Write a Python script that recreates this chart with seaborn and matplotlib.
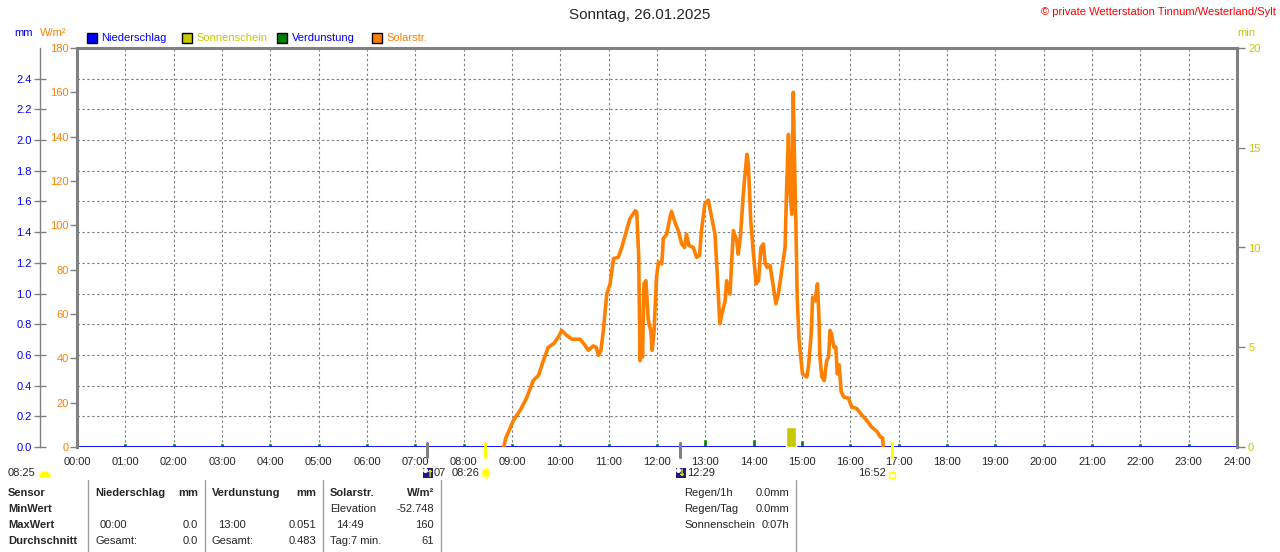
import numpy as np
import matplotlib
matplotlib.use("Agg")
import matplotlib.pyplot as plt
import matplotlib.transforms as mtrans
from matplotlib.patches import Rectangle, Wedge, Circle
import seaborn as sns

# --- data ---
# solar radiation (W/m²) against decimal hour
solar_h = [8.83, 8.87, 9.03, 9.17, 9.30, 9.44, 9.55, 9.65, 9.75, 9.86, 9.96, 10.03,
           10.13, 10.24, 10.41, 10.51, 10.58, 10.68, 10.74, 10.79, 10.84, 10.89, 10.96,
           11.03, 11.10, 11.20, 11.27, 11.37, 11.44, 11.55, 11.58, 11.62, 11.65, 11.68,
           11.70, 11.73, 11.77, 11.82, 11.87, 11.90, 11.94, 11.99, 12.03, 12.10, 12.13,
           12.20, 12.27, 12.30, 12.37, 12.44, 12.51, 12.57, 12.61, 12.66, 12.75, 12.82,
           12.88, 12.92, 12.99, 13.06, 13.13, 13.20, 13.25, 13.30, 13.34, 13.41, 13.44,
           13.51, 13.58, 13.65, 13.68, 13.73, 13.79, 13.86, 13.89, 13.94, 13.99, 14.05,
           14.10, 14.15, 14.20, 14.24, 14.28, 14.34, 14.41, 14.46, 14.51, 14.58, 14.65,
           14.68, 14.72, 14.75, 14.79, 14.82, 14.84, 14.88, 14.90, 14.94, 15.01, 15.10,
           15.14, 15.19, 15.22, 15.27, 15.32, 15.35, 15.37, 15.41, 15.46, 15.51, 15.55,
           15.58, 15.61, 15.66, 15.70, 15.73, 15.77, 15.81, 15.86, 15.96, 16.03, 16.13,
           16.24, 16.34, 16.44, 16.55, 16.62, 16.67, 16.68]
solar_w = [0, 4, 12, 16.6, 22, 30, 32.4, 39, 45, 46.6, 49.6, 52.6,
           50.4, 48.6, 48.6, 45.9, 43.6, 45.6, 45, 41.4, 43.6, 52.6, 69,
           73.6, 85, 85.6, 90, 97.6, 103, 106.6, 106, 87, 39, 56,
           40.6, 73.6, 75, 57, 52.6, 43.6, 52.6, 76.6, 83.4, 82.6, 94,
           96, 103.6, 106.3, 101.4, 97.6, 91.6, 90, 96, 90.9, 90, 85.6,
           86.4, 97.6, 109.6, 111.4, 103.6, 96, 76.6, 55.6, 60, 66, 75,
           69, 97.6, 93, 87, 96, 115.6, 132, 127.6, 102, 88.6, 73.6,
           75, 90, 91.6, 82.6, 81, 81.9, 72, 64.6, 69, 79.6, 90,
           115.6, 141, 115.6, 105, 160, 135, 93, 67.6, 48, 33, 31.6,
           37.6, 51, 67.6, 66, 73.6, 58.6, 40.6, 31.6, 30, 39, 40.6,
           52.6, 51, 45, 45, 33, 37, 25, 22.6, 22, 18, 17.4,
           14.4, 12, 9, 7, 4.6, 4, 0]

# evaporation (mm) per hour
evap_h = list(range(1, 24))
evap_mm = [0.024] * 12 + [0.051, 0.050, 0.046] + [0.024] * 8

# sunshine (min)
sun_start = [14.67]
sun_end = [14.88]
sun_min = [1.02]

# sun / moon marks under the time axis
moon_marks = [7.25, 12.48]
sun_marks = [8.433, 16.867]

hour_labels = ["%02d:00" % h for h in range(25)]
w_ticks = list(range(0, 181, 20))
mm_ticks = [round(0.2 * i, 1) for i in range(13)]
min_ticks = [0, 5, 10, 15, 20]

ORANGE = "#ff8000"
BLUE = "#0000ff"
YELLOW = "#c8c800"
GREEN = "#008000"
GRAY = "#808080"
NAVY = "#1c1c7c"

sns.set_style("white")
plt.rcParams["font.family"] = ["Liberation Sans", "DejaVu Sans"]
plt.rcParams["font.size"] = 8

W, H = 1280, 552
fig = plt.figure(figsize=(12.8, 5.52), dpi=100)


def fx(x):
    return x / W


def fy(y):
    return 1 - y / H


def inch(x, y):
    # top-left pixel -> inches from bottom-left (for round icons)
    return x / 100, (H - y) / 100


ax = fig.add_axes([fx(77), fy(447), fx(1237) - fx(77), fy(48) - fy(447)])
ax_mm = ax.twinx()
ax_min = ax.twinx()
ax.set_zorder(3)
ax.patch.set_visible(False)
ax_min.set_zorder(2)
ax_mm.set_zorder(1)

# --- mm axis (grid + evaporation) ---
ax_mm.set_ylim(0, 2.6)
ax_mm.yaxis.set_ticks_position("left")
ax_mm.yaxis.set_label_position("left")
ax_mm.spines["left"].set_position(("axes", (40 - 77) / 1160))
ax_mm.spines["left"].set_visible(True)
ax_mm.spines["left"].set_color(GRAY)
ax_mm.spines["left"].set_linewidth(1)
for s in ["right", "top", "bottom"]:
    ax_mm.spines[s].set_visible(False)
ax_mm.set_yticks(mm_ticks)
ax_mm.set_yticklabels(["%.1f" % v for v in mm_ticks], color=BLUE)
ax_mm.tick_params(axis="y", direction="inout", length=8, width=1, color=GRAY, pad=2, labelsize=8)
ax_mm.set_xlim(0, 24)
ax_mm.grid(False)
for v in mm_ticks[1:]:
    ax_mm.axhline(v, color=GRAY, lw=0.8, ls=(0, (2.2, 2.2)), zorder=0)
for h in range(1, 24):
    ax_mm.axvline(h, color=GRAY, lw=0.8, ls=(0, (2.2, 2.2)), zorder=0)
ax_mm.bar(evap_h, evap_mm, width=0.08, color=GREEN, zorder=2)
ax_mm.axhline(0, color=BLUE, lw=1.3, zorder=3)

# --- min axis (sunshine) ---
ax_min.set_ylim(0, 20)
ax_min.set_xlim(0, 24)
ax_min.set_yticks(min_ticks)
ax_min.set_yticklabels([str(v) for v in min_ticks], color=YELLOW)
ax_min.tick_params(axis="y", direction="out", length=6, width=1, color=GRAY, pad=2, labelsize=8)
for s in ax_min.spines.values():
    s.set_visible(False)
ax_min.bar(sun_start, sun_min, width=np.subtract(sun_end, sun_start), align="edge",
           color=YELLOW, zorder=2)

# --- W/m² axis (solar radiation) ---
sns.lineplot(x=solar_h, y=solar_w, ax=ax, color=ORANGE, lw=2.6, estimator=None, sort=False)
ax.set_xlim(0, 24)
ax.set_ylim(0, 180)
ax.set_yticks(w_ticks)
ax.set_yticklabels([str(v) for v in w_ticks], color=ORANGE)
ax.set_xticks(range(25))
ax.set_xticklabels(hour_labels)
ax.tick_params(axis="y", direction="out", length=5, width=1, color=GRAY, pad=1, labelsize=8)
ax.tick_params(axis="x", direction="out", length=0, pad=7, labelsize=8)
ax.set_xlabel("")
ax.set_ylabel("")
for s in ax.spines.values():
    s.set_color(GRAY)
    s.set_linewidth(2.2)
ax.spines["bottom"].set_visible(False)

# marks for moon / sun rise and set below the axis
trans = mtrans.blended_transform_factory(ax.transData, ax.transAxes)
for m in moon_marks:
    ax.plot([m, m], [0.01, -0.025], color=GRAY, lw=2.2, transform=trans, clip_on=False)
for m in sun_marks:
    ax.plot([m, m], [0.01, -0.025], color="#ffff00", lw=2.2, transform=trans, clip_on=False)

# --- header texts ---
fig.text(0.5, fy(15), "Sonntag, 26.01.2025", ha="center", va="center", fontsize=11)
fig.text(fx(1276), fy(12), "© private Wetterstation Tinnum/Westerland/Sylt", ha="right",
         va="center", color="#ff0000", fontsize=8)
fig.text(fx(14), fy(33), "mm", color=BLUE, va="center", fontsize=8)
fig.text(fx(40), fy(33), "W/m²", color=ORANGE, va="center", fontsize=8)
fig.text(fx(1237), fy(33), "min", color=YELLOW, va="center", fontsize=8)

legend_items = [(87, "Niederschlag", BLUE, BLUE), (182, "Sonnenschein", YELLOW, YELLOW),
                (277, "Verdunstung", GREEN, BLUE), (372, "Solarstr.", ORANGE, ORANGE)]
for x0, label, fc, tc in legend_items:
    fig.add_artist(Rectangle((fx(x0), fy(43)), 9.5 / W, 10 / H, transform=fig.transFigure,
                             facecolor=fc, edgecolor="black", lw=1))
    fig.text(fx(x0 + 14.5), fy(38), label, color=tc, va="center", fontsize=8)

# --- second time row ---
fig.text(fx(8), fy(473), "08:25", va="center", fontsize=8)
fig.add_artist(Wedge(inch(45, 477), 0.05, 0, 180, transform=fig.dpi_scale_trans,
                     color="#ffff00"))
for x0 in (423, 676):
    fig.add_artist(Rectangle((fx(x0), fy(478)), 10 / W, 10 / H, transform=fig.transFigure,
                             facecolor=NAVY, edgecolor="none"))
    fig.add_artist(Circle(inch(x0 + 2.5, 470.5), 0.018, transform=fig.dpi_scale_trans,
                          color="white"))
fig.text(fx(429), fy(474), "↑", color="#ffff00", ha="center", va="center", fontsize=7,
         fontweight="bold", family="DejaVu Sans")
fig.text(fx(681), fy(473), "↓", color="#ffff00", ha="center", va="center", fontsize=7,
         fontweight="bold", family="DejaVu Sans")
fig.text(fx(434), fy(473), "07", va="center", fontsize=8)
fig.text(fx(452), fy(473), "08:26", va="center", fontsize=8)
fig.add_artist(Circle(inch(486, 473), 0.03, transform=fig.dpi_scale_trans, color="#ffff00"))
for a in np.arange(0, 360, 45):
    r = np.deg2rad(a)
    cx, cy = inch(486, 473)
    fig.add_artist(plt.Line2D([cx + 0.038 * np.cos(r), cx + 0.052 * np.cos(r)],
                              [cy + 0.038 * np.sin(r), cy + 0.052 * np.sin(r)],
                              transform=fig.dpi_scale_trans, color="#ffff00", lw=0.8))
fig.text(fx(687), fy(473), "12:29", va="center", fontsize=8)
fig.text(fx(858), fy(473), "16:52", va="center", fontsize=8)
fig.add_artist(Rectangle((fx(889), fy(478)), 6 / W, 6 / H, transform=fig.transFigure,
                         facecolor="none", edgecolor="#ffff00", lw=1))

# --- statistics table ---
rows_y = [493, 509, 525, 541]
for y, t in zip(rows_y, ["Sensor", "MinWert", "MaxWert", "Durchschnitt"]):
    fig.text(fx(8), fy(y), t, va="center", fontsize=8, fontweight="bold")
fig.text(fx(95), fy(493), "Niederschlag", va="center", fontsize=8, fontweight="bold")
fig.text(fx(198), fy(493), "mm", va="center", ha="right", fontsize=8, fontweight="bold")
fig.text(fx(212), fy(493), "Verdunstung", va="center", fontsize=8, fontweight="bold")
fig.text(fx(316), fy(493), "mm", va="center", ha="right", fontsize=8, fontweight="bold")
fig.text(fx(330), fy(493), "Solarstr.", va="center", fontsize=8, fontweight="bold")
fig.text(fx(434), fy(493), "W/m²", va="center", ha="right", fontsize=8, fontweight="bold")

cells_left = [(330, 509, "Elevation"), (100, 525, "00:00"), (218, 525, "13:00"),
              (336, 525, "14:49"), (95, 541, "Gesamt:"), (212, 541, "Gesamt:"),
              (330, 541, "Tag:7 min."), (684, 493, "Regen/1h"), (684, 509, "Regen/Tag"),
              (684, 525, "Sonnenschein")]
cells_right = [(434, 509, "-52.748"), (198, 525, "0.0"), (316, 525, "0.051"),
               (434, 525, "160"), (198, 541, "0.0"), (316, 541, "0.483"), (434, 541, "61"),
               (789, 493, "0.0mm"), (789, 509, "0.0mm"), (789, 525, "0:07h")]
for x0, y0, t in cells_left:
    fig.text(fx(x0), fy(y0), t, va="center", fontsize=8)
for x0, y0, t in cells_right:
    fig.text(fx(x0), fy(y0), t, va="center", ha="right", fontsize=8)

for x0 in (88, 205, 323, 441, 796):
    fig.add_artist(plt.Line2D([fx(x0), fx(x0)], [fy(480), 0], transform=fig.transFigure,
                              color="#a0a0a0", lw=1))

fig.savefig("out.png", dpi=100)
